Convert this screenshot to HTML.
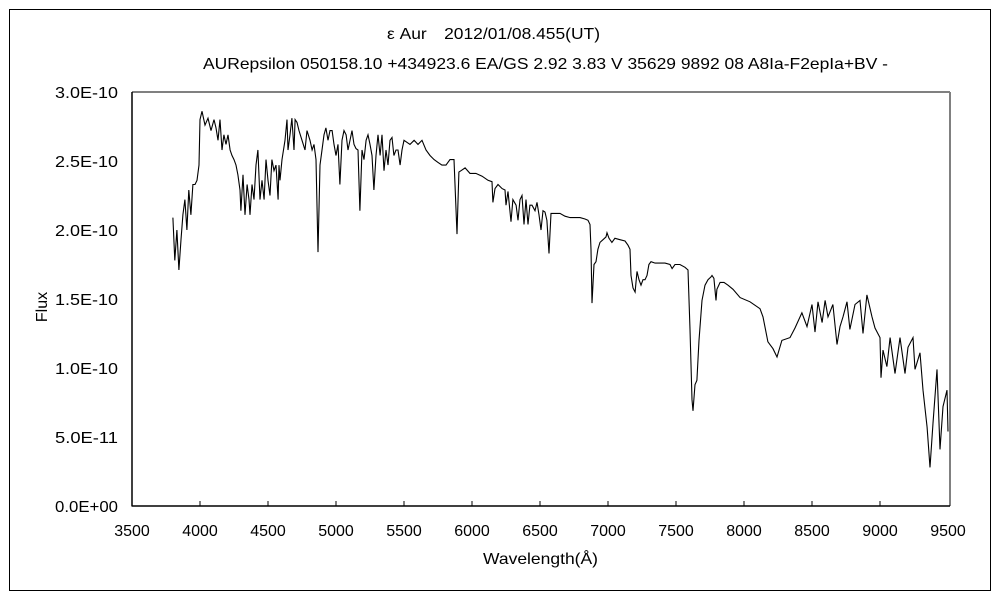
<!DOCTYPE html>
<html><head><meta charset="utf-8">
<style>
html,body{margin:0;padding:0;background:#fff;}
svg text{font-family:"Liberation Sans","Noto Sans CJK JP",sans-serif;font-size:16px;fill:#000;}
</style></head>
<body>
<svg id="chart" width="1000" height="600" viewBox="0 0 1000 600" xmlns="http://www.w3.org/2000/svg">
<rect x="9.5" y="9.5" width="981" height="581" fill="#fff" stroke="#000" stroke-width="1"/>
<text x="387" y="39" textLength="213" lengthAdjust="spacingAndGlyphs">ε Aur　2012/01/08.455(UT)</text>
<text x="203" y="69" textLength="685" lengthAdjust="spacingAndGlyphs">AURepsilon 050158.10 +434923.6 EA/GS 2.92 3.83 V 35629 9892 08 A8Ia-F2epIa+BV -</text>
<g id="axes"></g>
<text x="483" y="564" textLength="115" lengthAdjust="spacingAndGlyphs">Wavelength(Å)</text>
<text transform="translate(47,307) rotate(-90)" text-anchor="middle">Flux</text>
</svg>
<script>
const xTicks=[3500,4000,4500,5000,5500,6000,6500,7000,7500,8000,8500,9000,9500];
const yTicks=[0,0.5,1.0,1.5,2.0,2.5,3.0];
const yTickLabels=["0.0E+00","5.0E-11","1.0E-10","1.5E-10","2.0E-10","2.5E-10","3.0E-10"];
const wavelengths=[3801,3815,3830,3845,3860,3874,3889,3904,3918,3933,3948,3963,3978,3993,4000,4015,4037,4059,4081,4103,4118,4132,4147,4162,4176,4191,4206,4221,4235,4250,4265,4279,4294,4301,4316,4331,4346,4360,4368,4382,4397,4412,4426,4441,4456,4471,4485,4500,4515,4529,4544,4559,4574,4581,4588,4603,4625,4640,4647,4662,4676,4691,4699,4713,4728,4750,4772,4787,4809,4824,4838,4853,4868,4882,4897,4912,4926,4941,4956,4971,4985,5000,5015,5029,5044,5059,5074,5088,5103,5118,5132,5147,5162,5176,5191,5206,5221,5235,5250,5265,5279,5294,5309,5324,5338,5353,5368,5382,5397,5412,5426,5441,5456,5471,5485,5500,5544,5574,5603,5632,5662,5691,5721,5750,5779,5809,5838,5868,5890,5904,5919,5949,5985,6029,6074,6118,6147,6154,6169,6191,6221,6243,6250,6265,6287,6301,6324,6338,6353,6368,6382,6397,6412,6426,6441,6463,6478,6493,6507,6522,6537,6551,6566,6581,6596,6625,6647,6684,6721,6757,6794,6831,6853,6868,6875,6882,6897,6912,6926,6941,6963,6985,6993,7007,7029,7051,7088,7125,7147,7162,7169,7184,7199,7213,7228,7243,7257,7272,7287,7301,7316,7346,7382,7419,7456,7471,7493,7529,7566,7588,7603,7618,7625,7640,7654,7669,7691,7713,7735,7757,7765,7779,7794,7801,7824,7853,7882,7919,7971,8044,8118,8140,8176,8213,8243,8279,8338,8375,8426,8463,8500,8522,8544,8574,8596,8618,8654,8684,8706,8728,8757,8779,8816,8853,8875,8904,8941,8963,9000,9007,9022,9051,9074,9110,9147,9184,9206,9243,9257,9294,9316,9346,9368,9390,9419,9441,9463,9493,9500];
const fluxE10=[2.09,1.78,2.00,1.71,1.93,2.11,2.22,2.00,2.29,2.11,2.33,2.33,2.36,2.47,2.80,2.86,2.76,2.81,2.72,2.80,2.74,2.65,2.80,2.58,2.69,2.62,2.69,2.58,2.54,2.51,2.47,2.40,2.29,2.14,2.40,2.11,2.33,2.22,2.11,2.33,2.22,2.47,2.58,2.22,2.36,2.22,2.51,2.36,2.25,2.51,2.43,2.47,2.22,2.47,2.36,2.51,2.65,2.80,2.58,2.69,2.81,2.58,2.80,2.78,2.72,2.65,2.58,2.72,2.65,2.58,2.62,2.51,1.84,2.47,2.58,2.69,2.74,2.65,2.72,2.72,2.62,2.54,2.62,2.33,2.65,2.72,2.69,2.58,2.65,2.72,2.62,2.59,2.58,2.14,2.58,2.51,2.65,2.69,2.62,2.54,2.29,2.54,2.69,2.54,2.69,2.43,2.58,2.47,2.65,2.67,2.54,2.58,2.58,2.47,2.58,2.65,2.62,2.65,2.62,2.65,2.58,2.54,2.51,2.49,2.47,2.47,2.51,2.51,1.97,2.42,2.43,2.45,2.41,2.41,2.39,2.36,2.35,2.20,2.30,2.33,2.30,2.29,2.18,2.28,2.06,2.22,2.18,2.07,2.22,2.25,2.04,2.22,2.04,2.18,2.18,2.14,2.20,2.11,2.00,2.14,2.13,2.07,1.83,2.12,2.12,2.12,2.12,2.10,2.09,2.09,2.09,2.08,2.07,2.04,1.86,1.47,1.75,1.77,1.86,1.91,1.93,1.95,1.98,1.94,1.91,1.94,1.93,1.92,1.89,1.86,1.67,1.58,1.55,1.70,1.64,1.60,1.64,1.64,1.67,1.75,1.77,1.76,1.76,1.76,1.75,1.72,1.75,1.75,1.73,1.71,1.28,0.77,0.69,0.88,0.91,1.20,1.49,1.60,1.64,1.66,1.67,1.65,1.49,1.57,1.62,1.62,1.60,1.57,1.51,1.48,1.43,1.37,1.19,1.14,1.08,1.20,1.22,1.29,1.40,1.30,1.46,1.26,1.48,1.33,1.49,1.37,1.46,1.17,1.30,1.37,1.48,1.28,1.46,1.49,1.25,1.53,1.37,1.29,1.22,0.93,1.13,1.01,1.22,0.96,1.22,0.96,1.15,1.22,0.99,1.11,0.84,0.57,0.28,0.60,0.99,0.41,0.72,0.84,0.54];

const L=132,R=948,T=92,B=506;
const xs=v=>L+(v-3500)/(9500-3500)*(R-L);
const ys=v=>B-(v/3.0)*(B-T);
const NS="http://www.w3.org/2000/svg";
const g=document.getElementById('axes');
function mk(tag,attrs,parent){const e=document.createElementNS(NS,tag);for(const k in attrs)e.setAttribute(k,attrs[k]);(parent||g).appendChild(e);return e;}

let e=mk('line',{x1:L,y1:T,x2:R+2,y2:T,stroke:'#808080','stroke-width':2});


e=mk('line',{x1:R+2,y1:T,x2:R+2,y2:B,stroke:'#808080','stroke-width':2});


e=mk('line',{x1:L,y1:T,x2:L,y2:B+0.5,stroke:'#000','stroke-width':1.5});


e=mk('line',{x1:L,y1:B,x2:R+2,y2:B,stroke:'#000','stroke-width':1.5});



xTicks.forEach((t,i)=>{
  const x=xs(t);
  if(i>0&&i<xTicks.length-1){
    const tk=mk('line',{x1:x,y1:B,x2:x,y2:B-5,stroke:'#000','stroke-width':1});
    
    
  }
  const tx=mk('text',{x:x,y:B+30,'text-anchor':'middle'});
  tx.textContent=t;
  
  
});
yTicks.forEach((t,i)=>{
  const tx=mk('text',{x:118,y:ys(t)+6,'text-anchor':'end',textLength:63,lengthAdjust:'spacingAndGlyphs'});
  tx.textContent=yTickLabels[i];
  
  
});

let d='';
wavelengths.forEach((w,i)=>{d+=(i?'L':'M')+xs(w).toFixed(1)+','+ys(fluxE10[i]).toFixed(1);});
const p=mk('path',{d:d,fill:'none',stroke:'#000','stroke-width':1.1,'stroke-linejoin':'miter'});


</script>
</body></html>
